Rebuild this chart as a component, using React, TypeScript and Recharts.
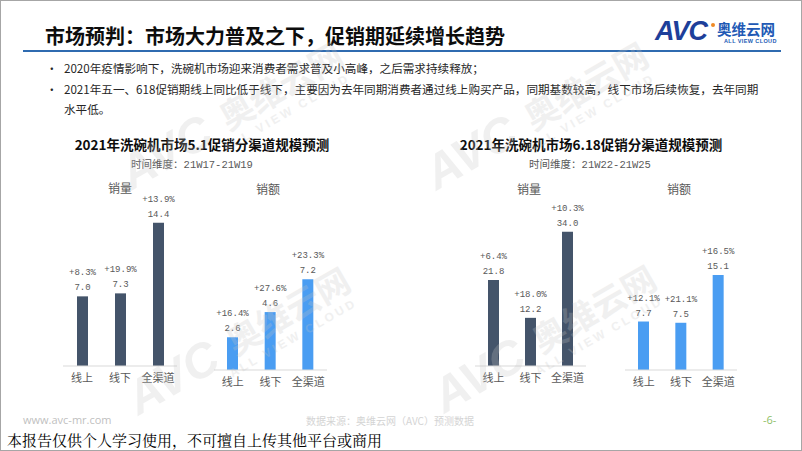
import { BarChart, Bar, XAxis, YAxis, LabelList } from "recharts";

const channels = ["线上", "线下", "全渠道"];

const mayVolume = [7.0, 7.3, 14.4];
const mayVolumeGrowth = ["+8.3%", "+19.9%", "+13.9%"];
const maySales = [2.6, 4.6, 7.2];
const maySalesGrowth = ["+16.4%", "+27.6%", "+23.3%"];

const juneVolume = [21.8, 12.2, 34.0];
const juneVolumeGrowth = ["+6.4%", "+18.0%", "+10.3%"];
const juneSales = [7.7, 7.5, 15.1];
const juneSalesGrowth = ["+12.1%", "+21.1%", "+16.5%"];

const bullets = [
  "2020年疫情影响下，洗碗机市场迎来消费者需求普及小高峰，之后需求持续释放；",
  "2021年五一、618促销期线上同比低于线下，主要因为去年同期消费者通过线上购买产品，同期基数较高，线下市场后续恢复，去年同期",
];

const CJK = '"Noto Sans CJK SC", "Noto Sans", sans-serif';
const MONO = '"Liberation Mono", "DejaVu Sans Mono", monospace';
const DARK = "#44546A";
const BLUE = "#4A9DF2";
const GREY = "#595959";

interface ChartProps {
  values: number[];
  growth: string[];
  color: string;
  yMax: number;
  left: number;
  top: number;
  width: number;
  height: number;
}

function ChannelBars({ values, growth, color, yMax, left, top, width, height }: ChartProps) {
  const data = channels.map((name, i) => ({ name, value: values[i], growth: growth[i] }));
  return (
    <div style={{ position: "absolute", left, top }}>
      <BarChart width={width} height={height} data={data} margin={{ top: 0, right: 0, bottom: 0, left: 0 }}>
        <XAxis
          dataKey="name"
          axisLine={{ stroke: "#d9d9d9" }}
          tickLine={false}
          interval={0}
          height={25}
          tick={{ fill: GREY, fontSize: 11, fontFamily: CJK }}
        />
        <YAxis hide domain={[0, yMax]} />
        <Bar dataKey="value" fill={color} barSize={11} isAnimationActive={false}>
          <LabelList
            dataKey="value"
            position="top"
            offset={6}
            formatter={(v: any) => Number(v).toFixed(1)}
            fill={GREY}
            fontSize={9}
            fontFamily={MONO}
          />
          <LabelList dataKey="growth" position="top" offset={21} fill={GREY} fontSize={9} fontFamily={MONO} />
        </Bar>
      </BarChart>
    </div>
  );
}

function Text({ x, y, children, style }: any) {
  return <div style={{ position: "absolute", left: x, top: y, whiteSpace: "nowrap", ...style }}>{children}</div>;
}

function Centered({ cx, y, children, style }: any) {
  return (
    <div style={{ position: "absolute", left: cx - 200, top: y, width: 400, textAlign: "center", whiteSpace: "nowrap", ...style }}>
      {children}
    </div>
  );
}

// faint tiled watermark, centred on the 奥维云网 part of each tile
const marks = [
  [280, 85],
  [585, 85],
  [287, 310],
  [593, 308],
];

function Watermark() {
  return (
    <svg width={802} height={451} style={{ position: "absolute", left: 0, top: 0, pointerEvents: "none" }}>
      {marks.map(([cx, cy], i) => (
        <g key={i} transform={`translate(${cx},${cy}) rotate(-30)`} fill="#c4c4c4" opacity={0.25} fontWeight="bold">
          <text x={-84} y={16} textAnchor="end" fontSize={48} fontStyle="italic" fontFamily="Liberation Sans">
            AVC
          </text>
          <text x={0} y={13} textAnchor="middle" fontSize={34} fontFamily={CJK}>
            奥维云网
          </text>
          <text x={-9} y={30} textAnchor="middle" fontSize={12} letterSpacing={3} fontFamily="Liberation Sans">
            ALL VIEW CLOUD
          </text>
        </g>
      ))}
    </svg>
  );
}

export default function App() {
  return (
    <div
      style={{
        position: "absolute",
        left: 0,
        top: 0,
        width: 802,
        height: 451,
        overflow: "hidden",
        background: "#fff",
        boxSizing: "border-box",
        border: "1px solid #a6a6a6",
        fontFamily: CJK,
      }}
    >
      <Text x={44} y={22} style={{ fontSize: 20, fontWeight: 700, color: "#0d0d0d", lineHeight: "26px" }}>
        市场预判：市场大力普及之下，促销期延续增长趋势
      </Text>
      <div style={{ position: "absolute", left: 22, top: 49, width: 758, height: 2, background: "#2F6BB0" }} />

      {/* logo */}
      <Text x={654} y={16} style={{ fontFamily: "Liberation Sans", fontSize: 27, fontWeight: 700, fontStyle: "italic", color: "#1E3F9A", lineHeight: "28px", letterSpacing: -1 }}>
        AVC
      </Text>
      <div style={{ position: "absolute", left: 710, top: 22, width: 4, height: 4, borderRadius: 2, background: "#F08A24" }} />
      <Text x={716} y={19} style={{ fontSize: 14.5, fontWeight: 700, color: "#2159B5", lineHeight: "18px" }}>
        奥维云网
      </Text>
      <Text x={723} y={37} style={{ fontFamily: "Liberation Sans", fontSize: 5.5, fontWeight: 700, color: "#2159B5", letterSpacing: 0.4, lineHeight: "7px" }}>
        ALL VIEW CLOUD
      </Text>

      {bullets.map((b, i) => (
        <div key={i}>
          <Text x={45} y={58 + i * 21} style={{ fontSize: 11.6, color: "#262626", lineHeight: "18px" }}>
            •
          </Text>
          <Text x={63} y={58 + i * 21} style={{ fontSize: 11.6, color: "#262626", lineHeight: "18px" }}>
            {b}
          </Text>
        </div>
      ))}
      <Text x={63} y={99} style={{ fontSize: 11.6, color: "#262626", lineHeight: "18px" }}>
        水平低。
      </Text>

      <Centered cx={201} y={134} style={{ fontSize: 13.5, fontWeight: 700, color: "#0d0d0d", lineHeight: "18px" }}>
        2021年洗碗机市场5.1促销分渠道规模预测
      </Centered>
      <Centered cx={191} y={155} style={{ fontSize: 10.5, color: GREY, lineHeight: "16px" }}>
        时间维度：<span style={{ fontFamily: MONO }}>21W17-21W19</span>
      </Centered>
      <Centered cx={590} y={134} style={{ fontSize: 13.5, fontWeight: 700, color: "#0d0d0d", lineHeight: "18px" }}>
        2021年洗碗机市场6.18促销分渠道规模预测
      </Centered>
      <Centered cx={589} y={155} style={{ fontSize: 10.5, color: GREY, lineHeight: "16px" }}>
        时间维度：<span style={{ fontFamily: MONO }}>21W22-21W25</span>
      </Centered>

      <Centered cx={119} y={179} style={{ fontSize: 12, color: GREY, lineHeight: "16px" }}>销量</Centered>
      <Centered cx={267} y={180} style={{ fontSize: 12, color: GREY, lineHeight: "16px" }}>销额</Centered>
      <Centered cx={528} y={180} style={{ fontSize: 12, color: GREY, lineHeight: "16px" }}>销量</Centered>
      <Centered cx={678} y={180} style={{ fontSize: 12, color: GREY, lineHeight: "16px" }}>销额</Centered>

      <ChannelBars values={mayVolume} growth={mayVolumeGrowth} color={DARK} yMax={19.6} left={62} top={170} width={114} height={220} />
      <ChannelBars values={maySales} growth={maySalesGrowth} color={BLUE} yMax={15.8} left={213} top={170} width={113} height={224} />
      <ChannelBars values={juneVolume} growth={juneVolumeGrowth} color={DARK} yMax={49.4} left={474} top={170} width={111} height={220} />
      <ChannelBars values={juneSales} growth={juneSalesGrowth} color={BLUE} yMax={31.6} left={624} top={170} width={112} height={224} />

      <Watermark />

      <Text x={22} y={412} style={{ fontFamily: '"Open Sans", sans-serif', fontSize: 11, color: "#bfbfbf", lineHeight: "14px" }}>
        www.avc-mr.com
      </Text>
      <Text x={305} y={413} style={{ fontSize: 10, color: "#d4d4d4", lineHeight: "14px" }}>
        数据来源：奥维云网（AVC）预测数据
      </Text>
      <Text x={762} y={412} style={{ fontFamily: '"Open Sans", sans-serif', fontSize: 11, color: "#8FBF6A", lineHeight: "14px" }}>
        -6-
      </Text>
      <Text x={6} y={430} style={{ fontFamily: '"Noto Serif CJK SC", "Noto Sans CJK SC", serif', fontSize: 15, color: "#000", lineHeight: "18px" }}>
        本报告仅供个人学习使用，不可擅自上传其他平台或商用
      </Text>
    </div>
  );
}
